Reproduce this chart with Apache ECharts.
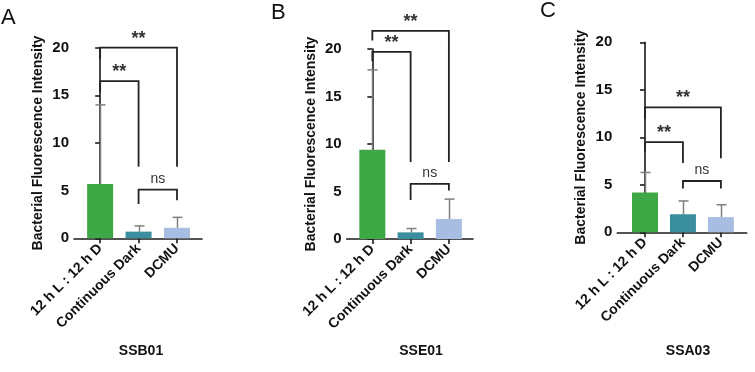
<!DOCTYPE html>
<html>
<head>
<meta charset="utf-8">
<style>
  html, body { margin: 0; padding: 0; background: #fff; }
  #chart { width: 755px; height: 372px; }
</style>
<script src="https://cdn.jsdelivr.net/npm/echarts@6/dist/echarts.min.js"></script>
</head>
<body>
<div id="chart"></div>
<script>
// groups on the x axis
const categories = ['12 h L : 12 h D', 'Continuous Dark', 'DCMU']
const barColors = ['#3ea846', '#3a8e9e', '#a7bee2']

// SSB01
const ssb01Mean = [5.7, 0.7, 1.1]
const ssb01Sd = [8.3, 0.6, 1.1]
// SSE01
const sse01Mean = [9.4, 0.7, 2.1]
const sse01Sd = [8.4, 0.4, 2.1]
// SSA03
const ssa03Mean = [4.2, 1.9, 1.6]
const ssa03Sd = [2.1, 1.4, 1.3]

// significance brackets: [from, to, top, left leg end, right leg end, label]
const ssb01Sig = [[0, 1, 16.5, 15.3, 7.5, '**'], [0, 2, 20, 18.8, 7.5, '**'], [1, 2, 5.1, 3.6, 4.0, 'ns']]
const sse01Sig = [[0, 1, 19.7, 18.7, 8.1, '**'], [0, 2, 21.9, 20.9, 8.1, '**'], [1, 2, 5.8, 4.1, 5.1, 'ns']]
const ssa03Sig = [[0, 1, 9.5, 8.5, 7.3, '**'], [0, 2, 13.15, 11.9, 7.8, '**'], [1, 2, 5.4, 4.6, 4.6, 'ns']]

const panels = [
    { letter: 'A', name: 'SSB01', mean: ssb01Mean, sd: ssb01Sd, sig: ssb01Sig,
      grid: { left: 74, top: 47.7, width: 128, height: 190.6 }, xMin: -0.68, xMax: 2.65, titleX: 136, letterX: 1, letterY: 7 },
    { letter: 'B', name: 'SSE01', mean: sse01Mean, sd: sse01Sd, sig: sse01Sig,
      grid: { left: 346.7, top: 49, width: 126.3, height: 190 }, xMin: -0.67, xMax: 2.63, titleX: 416, letterX: 271, letterY: 2 },
    { letter: 'C', name: 'SSA03', mean: ssa03Mean, sd: ssa03Sd, sig: ssa03Sig,
      grid: { left: 617.3, top: 42.3, width: 129.4, height: 190 }, xMin: -0.73, xMax: 2.68, titleX: 683, letterX: 540, letterY: 0 }
]

const font = 'Liberation Sans, Arial, sans-serif'
const axisColor = '#1a1a1a'

let chart = echarts.init(document.getElementById('chart'))

let grids = [], xAxes = [], yAxes = [], series = [], titles = []

panels.forEach((p, i) => {
    grids.push(p.grid)
    xAxes.push({
        type: 'value',
        gridIndex: i,
        min: p.xMin,
        max: p.xMax,
        splitLine: { show: false },
        axisLine: { show: true, onZero: false, lineStyle: { color: axisColor, width: 1.6 } },
        axisTick: { show: true, customValues: [0, 1, 2], length: 5, lineStyle: { color: axisColor, width: 1.6 } },
        axisLabel: {
            customValues: [0, 1, 2],
            rotate: 45,
            margin: 8,
            color: '#111',
            fontFamily: font,
            fontWeight: 'bold',
            fontSize: 14,
            formatter: v => categories[Math.round(v)]
        }
    })
    yAxes.push({
        type: 'value',
        gridIndex: i,
        min: 0,
        max: 20,
        interval: 5,
        name: 'Bacterial Fluorescence Intensity',
        nameLocation: 'middle',
        nameGap: 29,
        nameTextStyle: { color: '#111', fontFamily: font, fontWeight: 'bold', fontSize: 14 },
        splitLine: { show: false },
        axisLine: { show: true, lineStyle: { color: axisColor, width: 1.6 } },
        axisTick: { show: true, length: 5, lineStyle: { color: axisColor, width: 1.6 } },
        axisLabel: { color: '#111', fontFamily: font, fontWeight: 'bold', fontSize: 15, margin: 5 }
    })

    // bars
    series.push({
        type: 'bar',
        xAxisIndex: i,
        yAxisIndex: i,
        barWidth: 26,
        data: p.mean.map((m, k) => ({ value: [k, m], itemStyle: { color: barColors[k] } })),
        z: 2
    })

    // error bars (mean up to mean + sd)
    series.push({
        type: 'custom',
        xAxisIndex: i,
        yAxisIndex: i,
        z: 3,
        data: p.mean.map((m, k) => [k, m, m + p.sd[k]]),
        renderItem: (params, api) => {
            const low = api.coord([api.value(0), api.value(1)])
            const high = api.coord([api.value(0), api.value(2)])
            const x = Math.round(low[0]) + 0.5
            const style = { stroke: '#7f7f7f', lineWidth: 1.5 }
            return {
                type: 'group',
                children: [
                    { type: 'line', shape: { x1: x, y1: low[1], x2: x, y2: high[1] }, style },
                    { type: 'line', shape: { x1: x - 5, y1: high[1], x2: x + 5, y2: high[1] }, style }
                ]
            }
        }
    })

    // significance brackets
    series.push({
        type: 'custom',
        xAxisIndex: i,
        yAxisIndex: i,
        z: 4,
        clip: false,
        data: p.sig,
        renderItem: (params, api) => {
            const s = p.sig[params.dataIndex]
            const a = api.coord([s[0], s[3]])
            const b = api.coord([s[0], s[2]])
            const c = api.coord([s[1], s[2]])
            const d = api.coord([s[1], s[4]])
            const isNs = s[5] === 'ns'
            return {
                type: 'group',
                children: [
                    { type: 'polyline', shape: { points: [a, b, c, d] }, style: { stroke: '#222', lineWidth: 1.8, fill: null } },
                    {
                        type: 'text',
                        x: (b[0] + c[0]) / 2,
                        y: b[1] - (isNs ? 4 : 0),
                        style: {
                            text: s[5],
                            align: 'center',
                            verticalAlign: 'bottom',
                            fill: '#333',
                            font: isNs ? `14px ${font}` : `bold 18px ${font}`
                        }
                    }
                ]
            }
        }
    })

    titles.push({
        text: p.name,
        left: p.titleX,
        top: 339,
        textAlign: 'center',
        textStyle: { fontFamily: font, fontWeight: 'bold', fontSize: 14, color: '#111' }
    })
    titles.push({
        text: p.letter,
        left: p.letterX,
        top: p.letterY,
        padding: 0,
        textStyle: { fontFamily: font, fontWeight: 'normal', fontSize: 22, color: '#111' }
    })
})

chart.setOption({
    animation: false,
    backgroundColor: '#fff',
    title: titles,
    grid: grids,
    xAxis: xAxes,
    yAxis: yAxes,
    series: series
})
</script>
</body>
</html>
